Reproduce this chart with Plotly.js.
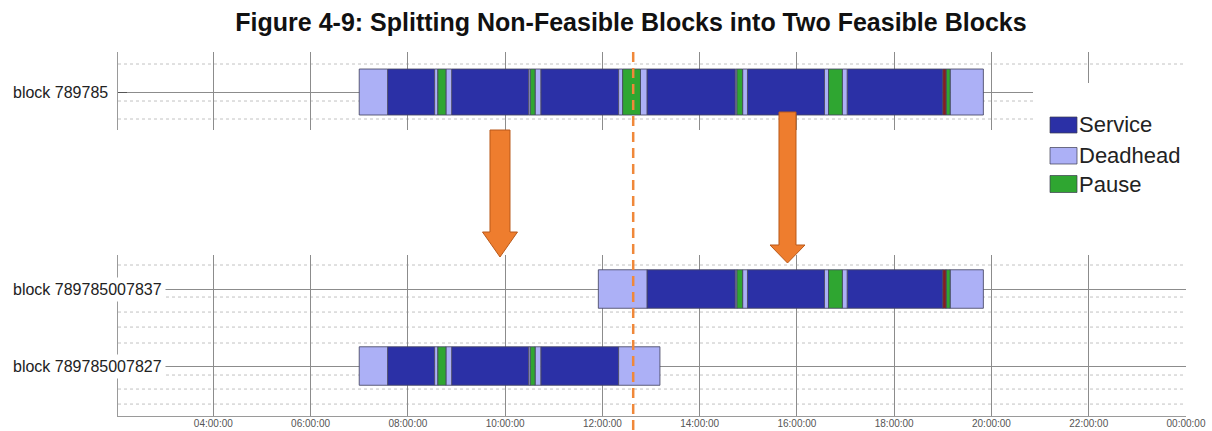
<!DOCTYPE html>
<html>
<head>
<meta charset="utf-8">
<script src="https://cdn.plot.ly/plotly-3.0.1.min.js"></script>
<style>
html,body{margin:0;padding:0;background:#ffffff;}
#chart{width:1212px;height:431px;}
</style>
</head>
<body>
<div id="chart"></div>
<script>
// ---------------- data ----------------
const chartTitle = 'Figure 4-9: Splitting Non-Feasible Blocks into Two Feasible Blocks';
const blockNames = ['block 789785', 'block 789785007837', 'block 789785007827'];
const legendNames = ['Service', 'Deadhead', 'Pause'];
const tickHours = [4, 6, 8, 10, 12, 14, 16, 18, 20, 22, 24];
const tickLabels = ['04:00:00', '06:00:00', '08:00:00', '10:00:00', '12:00:00', '14:00:00',
                    '16:00:00', '18:00:00', '20:00:00', '22:00:00', '00:00:00'];
const splitTime = '12:38';

// block 789785 (original, non-feasible)
const b789785Type  = ['Deadhead','Service','Deadhead','Pause','Deadhead','Service','Deadhead','Pause','Deadhead','Service','Deadhead','Pause','Deadhead','Service','Deadhead','Pause','Deadhead','Service','Deadhead','Pause','Deadhead','Service','Other','Pause','Deadhead'];
const b789785Start = ['07:00','07:35','08:33','08:37','08:47','08:54','10:29','10:31','10:37','10:44','12:20','12:25','12:47','12:55','14:44','14:46','14:53','14:59','16:34','16:39','16:56','17:02','19:00','19:04','19:09'];
const b789785End   = ['07:35','08:33','08:37','08:47','08:54','10:29','10:31','10:37','10:44','12:20','12:25','12:47','12:55','14:44','14:46','14:53','14:59','16:34','16:39','16:56','17:02','19:00','19:04','19:09','19:50'];

// block 789785007837 (second feasible block)
const b837Type  = ['Deadhead','Service','Deadhead','Pause','Deadhead','Service','Deadhead','Pause','Deadhead','Service','Other','Pause','Deadhead'];
const b837Start = ['11:55','12:55','14:44','14:46','14:53','14:59','16:34','16:39','16:56','17:02','19:00','19:04','19:09'];
const b837End   = ['12:55','14:44','14:46','14:53','14:59','16:34','16:39','16:56','17:02','19:00','19:04','19:09','19:50'];

// block 789785007827 (first feasible block)
const b827Type  = ['Deadhead','Service','Deadhead','Pause','Deadhead','Service','Deadhead','Pause','Deadhead','Service','Deadhead'];
const b827Start = ['07:00','07:35','08:33','08:37','08:47','08:54','10:29','10:31','10:37','10:44','12:20'];
const b827End   = ['07:35','08:33','08:37','08:47','08:54','10:29','10:31','10:37','10:44','12:20','13:11'];

// ---------------- styles ----------------
const typeColors = {Service:'#2b30a6', Deadhead:'#acb0f6', Pause:'#2fa631', Other:'#8a1c1c'};
const font = 'Liberation Sans, Arial, Helvetica, sans-serif';
const W = 1212, H = 431, M = {l:118, r:26, t:52, b:15};
const plotW = W - M.l - M.r, plotH = H - M.t - M.b;
const px2x = p => (p - M.l) / plotW;
const px2y = p => (H - M.b - p) / plotH;
const toH = s => { const [h, m] = s.split(':').map(Number); return h + m / 60; };

// ---------------- traces ----------------
const blocks = [
  {type:b789785Type, start:b789785Start, end:b789785End, axis:'y',  row:0, width:1.0},
  {type:b837Type,    start:b837Start,    end:b837End,    axis:'y2', row:1, width:0.5},
  {type:b827Type,    start:b827Start,    end:b827End,    axis:'y2', row:0, width:0.5}
];
const traces = [];
blocks.forEach(b => {
  ['Service','Deadhead','Pause','Other'].forEach(t => {
    const base = [], dur = [], ys = [];
    b.type.forEach((tt, i) => {
      if (tt !== t) return;
      const s = toH(b.start[i]), e = toH(b.end[i]);
      base.push(s); dur.push(e - s); ys.push(b.row);
    });
    if (!dur.length) return;
    traces.push({
      type:'bar', orientation:'h', name:t, x:dur, base:base, y:ys,
      width:b.width, xaxis:'x', yaxis:b.axis,
      marker:{color:typeColors[t], line:{color:'rgba(70,70,100,0.85)', width:1}},
      hoverinfo:'skip', showlegend:false
    });
  });
});

// ---------------- decorations ----------------
const shapes = [];
// dotted horizontal guide lines
[0.609, -0.196, -0.587].forEach(v => shapes.push({type:'line', xref:'paper', x0:0, x1:1, yref:'y', y0:v, y1:v, layer:'below', line:{color:'#c2c2c2', width:1, dash:'dot'}}));
[1.312, 0.896, 0.701, 0.506, 0.299, -0.117, -0.299, -0.494].forEach(v => shapes.push({type:'line', xref:'paper', x0:0, x1:1, yref:'y2', y0:v, y1:v, layer:'below', line:{color:'#c2c2c2', width:1, dash:'dot'}}));

// legend background
shapes.push({type:'rect', xref:'paper', yref:'paper', x0:px2x(1033), x1:px2x(1208), y0:px2y(205), y1:px2y(83), fillcolor:'#ffffff', line:{width:0}, layer:'above'});
// legend swatches
const swY = [[117,133],[147.5,164],[175.5,192.5]];
legendNames.forEach((n, i) => shapes.push({type:'rect', xref:'paper', yref:'paper', x0:px2x(1050), x1:px2x(1077), y0:px2y(swY[i][1]), y1:px2y(swY[i][0]), fillcolor:typeColors[n], line:{color:'rgba(60,60,80,0.7)', width:1}, layer:'above'}));

// arrows
function arrowPath(cx, top, shaftW, headTop, headW, tip) {
  const pts = [[cx-shaftW/2, top],[cx+shaftW/2, top],[cx+shaftW/2, headTop],[cx+headW/2, headTop],[cx, tip],[cx-headW/2, headTop],[cx-shaftW/2, headTop]];
  return 'M' + pts.map(p => px2x(p[0]).toFixed(5) + ',' + px2y(p[1]).toFixed(5)).join('L') + 'Z';
}
shapes.push({type:'path', xref:'paper', yref:'paper', path:arrowPath(500, 130, 20, 232, 35, 257), fillcolor:'#ee7d2e', line:{color:'#b9591a', width:1}, layer:'above'});
shapes.push({type:'path', xref:'paper', yref:'paper', path:arrowPath(787.5, 112, 17, 245, 35, 263), fillcolor:'#ee7d2e', line:{color:'#b9591a', width:1}, layer:'above'});

// split line
const splitX = (toH(splitTime) - 2.04) / (24 - 2.04);
shapes.push({type:'line', xref:'paper', yref:'paper', x0:splitX, x1:splitX, y0:1.0, y1:px2y(431), line:{color:'#f0883a', width:2.5, dash:'10px,6px'}, layer:'above'});

const annotations = [];
// block labels
annotations.push({xref:'paper', yref:'y', x:px2x(9), y:0, xanchor:'left', yanchor:'middle', text:blockNames[0], showarrow:false, bgcolor:'#ffffff', borderpad:3, font:{family:font, size:16, color:'#222'}});
annotations.push({xref:'paper', yref:'y2', x:px2x(9), y:1, xanchor:'left', yanchor:'middle', text:blockNames[1], showarrow:false, bgcolor:'#ffffff', borderpad:3, font:{family:font, size:16, color:'#222'}});
annotations.push({xref:'paper', yref:'y2', x:px2x(9), y:0, xanchor:'left', yanchor:'middle', text:blockNames[2], showarrow:false, bgcolor:'#ffffff', borderpad:3, font:{family:font, size:16, color:'#222'}});
// legend texts
const lgY = [125, 155.5, 184];
legendNames.forEach((n, i) => annotations.push({xref:'paper', yref:'paper', x:px2x(1077), y:px2y(lgY[i]), xanchor:'left', yanchor:'middle', text:n, showarrow:false, font:{family:font, size:22, color:'#222'}}));

const gridCol = '#8c8c8c';
const layout = {
  width:W, height:H, margin:M,
  paper_bgcolor:'#ffffff', plot_bgcolor:'#ffffff',
  font:{family:font, color:'#222'},
  title:{text:chartTitle, font:{family:font, size:25, color:'#111', weight:700},
         xref:'container', x:631/W, xanchor:'center', yref:'container', y:1 - 22/H, yanchor:'middle'},
  barmode:'overlay', showlegend:false,
  xaxis:{anchor:'y2', range:[2.04, 24], tickmode:'array', tickvals:tickHours, ticktext:tickLabels,
         showgrid:true, gridcolor:gridCol, gridwidth:1, zeroline:false,
         showline:true, linecolor:'#9a9a9a', linewidth:1, ticks:'', ticklabelstandoff:-2,
         tickfont:{family:font, size:10, color:'#555'}, fixedrange:true},
  yaxis:{domain:[px2y(130), 1], range:[-0.826, 0.87], tickmode:'array', tickvals:[0],
         showticklabels:false, showgrid:true, gridcolor:gridCol, zeroline:false,
         showline:true, linecolor:'#9a9a9a', linewidth:1, ticks:'inside', ticklen:9, tickcolor:'#555', fixedrange:true},
  yaxis2:{domain:[0, px2y(255)], range:[-0.649, 1.442], tickmode:'array', tickvals:[0, 1],
         showticklabels:false, showgrid:true, gridcolor:gridCol, zeroline:false,
         showline:true, linecolor:'#9a9a9a', linewidth:1, ticks:'', fixedrange:true},
  shapes:shapes, annotations:annotations
};

Plotly.newPlot('chart', traces, layout, {staticPlot:true, displayModeBar:false});
</script>
</body>
</html>
